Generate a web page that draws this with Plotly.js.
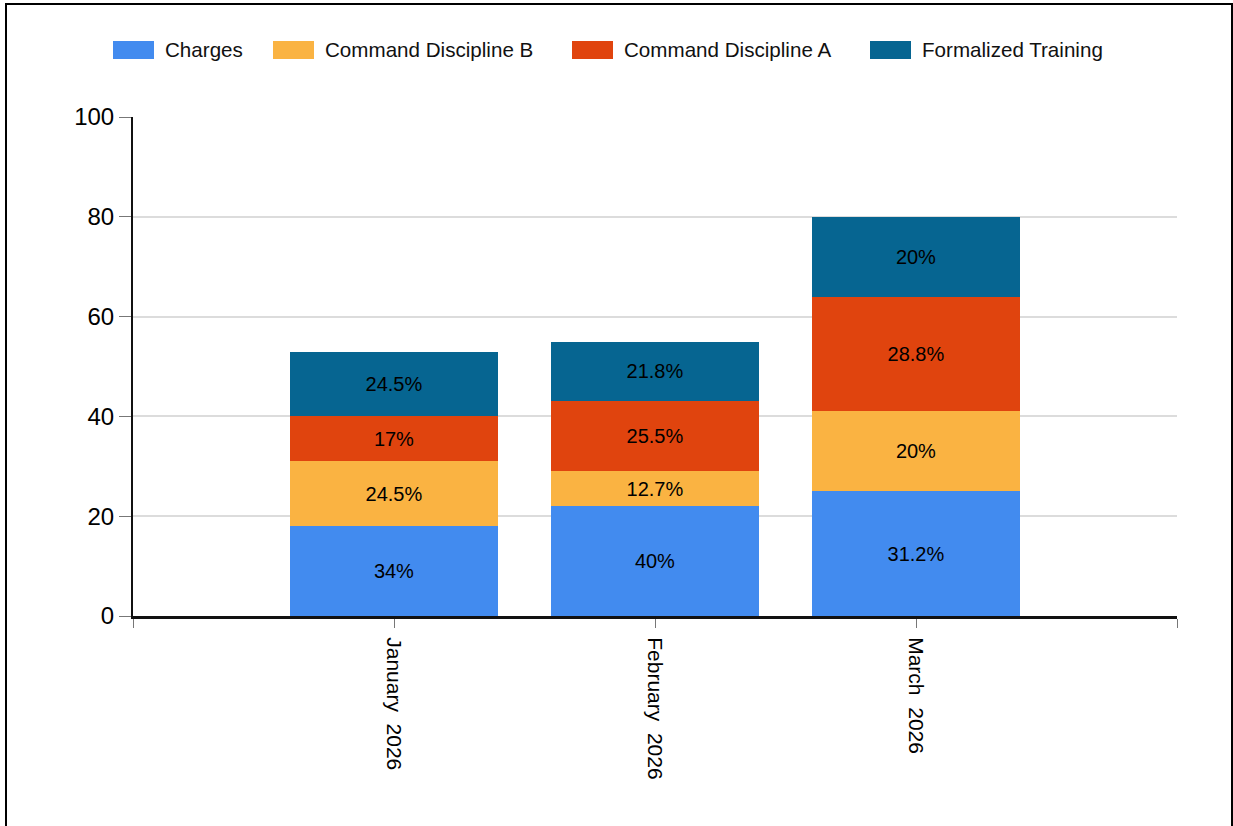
<!DOCTYPE html>
<html>
<head>
<meta charset="utf-8">
<script src="https://cdn.plot.ly/plotly-3.0.1.min.js"></script>
<style>
  html, body { margin: 0; padding: 0; background: #fff; overflow: hidden; }
  #chart { position: absolute; left: 0; top: 0; width: 1233px; height: 826px; }
  #frame { position: absolute; left: 5px; top: 3px; width: 1228px; height: 900px;
           border: 2px solid #000; pointer-events: none; box-sizing: border-box; }
</style>
</head>
<body>
<div id="chart"></div>
<div id="frame"></div>
<script>
const categories = ["January  2026", "February  2026", "March  2026"];
const seriesNames = ["Charges", "Command Discipline B", "Command Discipline A", "Formalized Training"];
const charges = [18, 22, 25];
const commandDisciplineB = [13, 7, 16];
const commandDisciplineA = [9, 14, 23];
const formalizedTraining = [13, 12, 16];
const chargesLabels = ["34%", "40%", "31.2%"];
const commandDisciplineBLabels = ["24.5%", "12.7%", "20%"];
const commandDisciplineALabels = ["17%", "25.5%", "28.8%"];
const formalizedTrainingLabels = ["24.5%", "21.8%", "20%"];
const yTicks = [0, 20, 40, 60, 80, 100];

const colors = ["#428BEF", "#FAB342", "#E0440E", "#066591"];
const values = [charges, commandDisciplineB, commandDisciplineA, formalizedTraining];
const labels = [chargesLabels, commandDisciplineBLabels, commandDisciplineALabels, formalizedTrainingLabels];
const FONT = "Liberation Sans, Arial, sans-serif";

const xIdx = categories.map((c, i) => i);

const traces = seriesNames.map((name, s) => ({
  type: "bar",
  name: name,
  x: xIdx,
  y: values[s],
  width: 0.8,
  text: labels[s],
  textposition: "inside",
  insidetextanchor: "middle",
  textangle: 0,
  constraintext: "none",
  textfont: { family: FONT, size: 20, color: "#000" },
  marker: { color: colors[s], line: { width: 0 } },
  hoverinfo: "none",
  showlegend: false
}));

// custom legend (pixel -> paper conversions)
const L = 133, R = 1177, T = 117, B = 616;
const px = p => (p - L) / (R - L);
const py = p => (B - p) / (B - T);
const legendSwatchX = [113, 273, 572, 870];
const shapes = [];
const annotations = [];
seriesNames.forEach((name, s) => {
  shapes.push({
    type: "rect", xref: "paper", yref: "paper",
    x0: px(legendSwatchX[s]), x1: px(legendSwatchX[s] + 41),
    y0: py(59), y1: py(41),
    fillcolor: colors[s], line: { width: 0 }
  });
  annotations.push({
    xref: "paper", yref: "paper",
    x: px(legendSwatchX[s] + 50), y: py(50),
    xanchor: "left", yanchor: "middle",
    text: name, showarrow: false,
    font: { family: FONT, size: 20.6, color: "#111" }
  });
});

const layout = {
  width: 1233, height: 826,
  margin: { l: 133, r: 56, t: 117, b: 210 },
  paper_bgcolor: "#fff", plot_bgcolor: "#fff",
  barmode: "stack",
  showlegend: false,
  font: { family: FONT, color: "#000" },
  xaxis: {
    type: "linear",
    range: [-1, 3],
    tickmode: "array",
    tickvals: [-1].concat(xIdx).concat([3]),
    ticktext: [""].concat(categories).concat([""]),
    tickangle: 90,
    ticks: "outside", ticklen: 9, tickwidth: 1, tickcolor: "#777",
    ticklabelstandoff: 5,
    tickfont: { family: FONT, size: 21, color: "#000" },
    showline: true, linecolor: "#111", linewidth: 3,
    showgrid: false, zeroline: false, fixedrange: true
  },
  yaxis: {
    range: [0, 100],
    tickmode: "array", tickvals: yTicks,
    ticks: "outside", ticklen: 12, tickwidth: 1, tickcolor: "#777",
    tickfont: { family: FONT, size: 24, color: "#000" },
    showline: true, linecolor: "#111", linewidth: 2,
    showgrid: true, gridcolor: "#dcdcdc", gridwidth: 2,
    zeroline: false, fixedrange: true
  },
  shapes: shapes,
  annotations: annotations
};

Plotly.newPlot("chart", traces, layout, { displayModeBar: false, staticPlot: true });
</script>
</body>
</html>
